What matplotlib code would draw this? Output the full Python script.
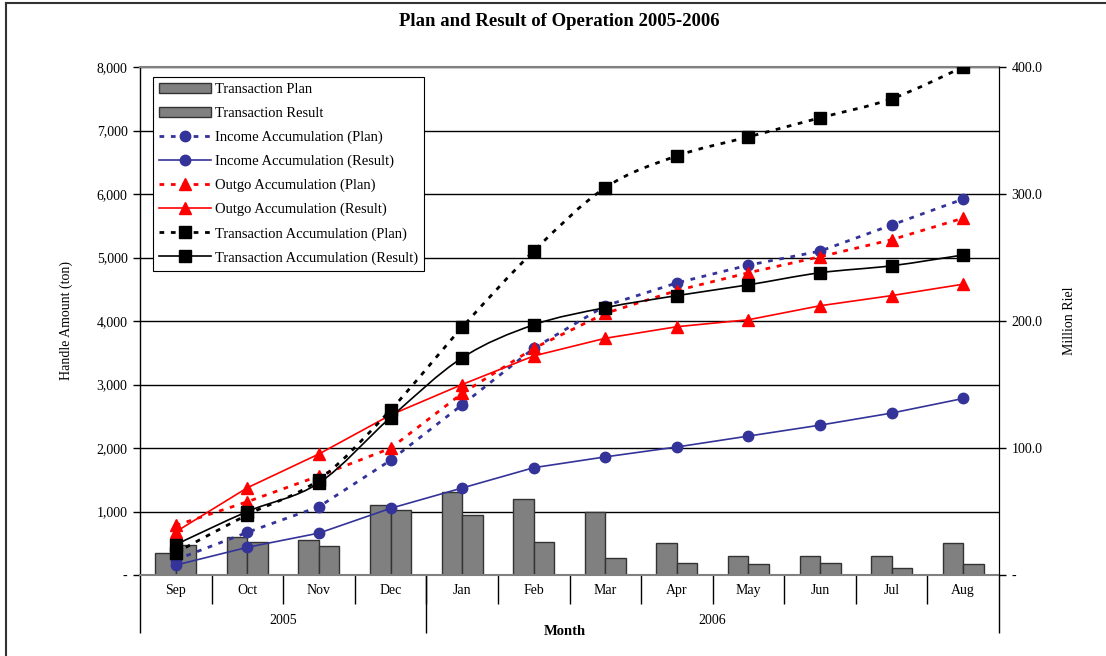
import numpy as np
import matplotlib
matplotlib.use("Agg")
import matplotlib.pyplot as plt
import matplotlib.transforms as mtransforms
from matplotlib.path import Path
from matplotlib.patches import PathPatch, Patch
from matplotlib.lines import Line2D
from matplotlib.ticker import FuncFormatter

plt.rcParams['font.family'] = ['Liberation Serif', 'DejaVu Serif']

# Data
months = ["Sep", "Oct", "Nov", "Dec", "Jan", "Feb", "Mar", "Apr", "May", "Jun", "Jul", "Aug"]
years = ["2005", "2006"]

# monthly transaction (ton)
trans_plan = [350, 600, 550, 1100, 1300, 1200, 1000, 500, 300, 300, 300, 500]
trans_result = [480, 520, 450, 1030, 940, 520, 270, 190, 170, 190, 110, 170]

# accumulated transaction (ton)
trans_acc_plan = [350, 950, 1500, 2600, 3900, 5100, 6100, 6600, 6900, 7200, 7500, 8000]
trans_acc_result = [480, 1000, 1450, 2480, 3420, 3940, 4210, 4400, 4570, 4760, 4870, 5040]

# accumulated income / outgo (Million Riel)
income_plan = [12, 33.6, 53.8, 90.3, 134, 178.5, 212, 230, 244, 255, 275.6, 296]
income_result = [7.8, 21.8, 33, 52.5, 68.5, 84.5, 93, 100.8, 109.4, 118, 127.5, 139]
outgo_plan = [39, 57.7, 78, 99.8, 143, 178.5, 206, 224, 238, 250.6, 264, 281]
outgo_result = [34, 68.7, 95.3, 126, 150, 172.5, 186.4, 195.5, 201, 212, 220, 229]

W, H = 1106, 656
fig = plt.figure(figsize=(W / 100, H / 100), dpi=100)

x0, x1, y_top, y_bot = 140, 999, 67, 575
ax = fig.add_axes([x0 / W, 1 - y_bot / H, (x1 - x0) / W, (y_bot - y_top) / H])
ax2 = ax.twinx()
ax3 = ax.twinx()

x = np.arange(len(months))
bw = 0.286
BLUE = "#333399"
RED = "#FF0000"
FS = 10

# bars (left axis)
ax.bar(x - bw / 2, trans_plan, bw, color="#808080", edgecolor="#333333", linewidth=1, zorder=2)
ax.bar(x + bw / 2, trans_result, bw, color="#808080", edgecolor="#333333", linewidth=1, zorder=2)

ax.set_xlim(-0.5, len(months) - 0.5)
ax.set_ylim(0, 8000)
ax.set_yticks(np.arange(0, 8001, 1000))
ax.yaxis.set_major_formatter(FuncFormatter(lambda v, p: "-" if v == 0 else f"{int(v):,}"))
ax.grid(axis="y", color="black", linewidth=1)
ax.set_axisbelow(True)
ax.tick_params(axis="y", direction="out", length=5, labelsize=FS, width=1, pad=4)
ax.tick_params(axis="x", length=0, labelbottom=False)
ax.set_xticks([])
for s in ["top", "bottom"]:
    ax.spines[s].set_color("#808080")
    ax.spines[s].set_linewidth(1.5)
ax.spines["left"].set_linewidth(1)
ax.set_ylabel("Handle Amount (ton)", fontsize=FS)
ax.yaxis.set_label_coords(-0.078, 0.5)

# income / outgo (right axis)
dash = (0, (1.7, 2.4))
ax2.plot(x, income_plan, color=BLUE, ls=dash, lw=2, marker="o", ms=7.5, zorder=3)
ax2.plot(x, income_result, color=BLUE, ls="-", lw=1.2, marker="o", ms=7.5, zorder=3)
ax2.plot(x, outgo_plan, color=RED, ls=dash, lw=2, marker="^", ms=9, zorder=3)
ax2.plot(x, outgo_result, color=RED, ls="-", lw=1.2, marker="^", ms=9, zorder=3)
ax2.set_ylim(0, 400)
ax2.set_yticks(np.arange(0, 401, 100))
ax2.yaxis.set_major_formatter(FuncFormatter(lambda v, p: "-" if v == 0 else f"{v:.1f}"))
ax2.tick_params(axis="y", direction="out", length=5, labelsize=FS, width=1, pad=4)
ax2.set_ylabel("Million Riel", fontsize=FS)
ax2.yaxis.set_label_coords(1.075, 0.5)
for s in ["top", "bottom", "left"]:
    ax2.spines[s].set_visible(False)


def smooth_path(xs, ys):
    pts = np.column_stack([xs, ys]).astype(float)
    n = len(pts)
    verts = [pts[0]]
    codes = [Path.MOVETO]
    for i in range(n - 1):
        p0 = pts[max(i - 1, 0)]
        p1 = pts[i]
        p2 = pts[i + 1]
        p3 = pts[min(i + 2, n - 1)]
        verts += [p1 + (p2 - p0) / 6, p2 - (p3 - p1) / 6, p2]
        codes += [Path.CURVE4] * 3
    return Path(verts, codes)


# transaction accumulation (left scale, drawn on top)
ax3.set_ylim(0, 8000)
ax3.axis("off")
ax3.add_patch(PathPatch(smooth_path(x, trans_acc_plan), fill=False, edgecolor="black",
                        lw=2, ls=dash, zorder=4))
ax3.add_patch(PathPatch(smooth_path(x, trans_acc_result), fill=False, edgecolor="black",
                        lw=1.2, ls="-", zorder=4))
ax3.plot(x, trans_acc_plan, ls="none", marker="s", ms=8, color="black", zorder=5)
ax3.plot(x, trans_acc_result, ls="none", marker="s", ms=8, color="black", zorder=5)
ax3.set_xlim(-0.5, len(months) - 0.5)

# multi-level category axis
tr = mtransforms.blended_transform_factory(ax.transData, ax.transAxes)
ax.vlines(np.arange(0.5, 11.5, 1.0), -0.057, 0, transform=tr, color="black", lw=1, clip_on=False)
ax.vlines([-0.5, 3.5, 11.5], -0.114, 0, transform=tr, color="black", lw=1, clip_on=False)
for i, m in enumerate(months):
    ax.text(i, -0.031, m, transform=tr, ha="center", va="center", fontsize=FS)
ax.text(1.5, -0.089, years[0], transform=tr, ha="center", va="center", fontsize=FS)
ax.text(7.5, -0.089, years[1], transform=tr, ha="center", va="center", fontsize=FS)
ax.text(0.494, -0.111, "Month", transform=ax.transAxes, ha="center", va="center",
        fontsize=10.5, fontweight="bold")

fig.text(559 / W, 1 - 21 / H, "Plan and Result of Operation 2005-2006", ha="center",
         va="center", fontsize=13.5, fontweight="bold")

# legend
handles = [
    Patch(facecolor="#808080", edgecolor="#333333"),
    Patch(facecolor="#808080", edgecolor="#333333"),
    Line2D([], [], color=BLUE, ls=dash, lw=2, marker="o", ms=7.5),
    Line2D([], [], color=BLUE, ls="-", lw=1.2, marker="o", ms=7.5),
    Line2D([], [], color=RED, ls=dash, lw=2, marker="^", ms=9),
    Line2D([], [], color=RED, ls="-", lw=1.2, marker="^", ms=9),
    Line2D([], [], color="black", ls=dash, lw=2, marker="s", ms=8),
    Line2D([], [], color="black", ls="-", lw=1.2, marker="s", ms=8),
]
labels = ["Transaction Plan", "Transaction Result",
          "Income Accumulation (Plan)", "Income Accumulation (Result)",
          "Outgo Accumulation (Plan)", "Outgo Accumulation (Result)",
          "Transaction Accumulation (Plan)", "Transaction Accumulation (Result)"]
leg = ax3.legend(handles, labels, loc="upper left", bbox_to_anchor=(153 / W, 1 - 77 / H),
                 bbox_transform=fig.transFigure, borderaxespad=0, fontsize=10.5,
                 handlelength=3.6, handletextpad=0.25, labelspacing=0.73, numpoints=1,
                 fancybox=False, framealpha=1, edgecolor="black", borderpad=0.4)
leg.get_frame().set_linewidth(0.8)

# outer frame of the chart
fig.add_artist(Line2D([6 / W, 6 / W], [0, 1 - 3 / H], color="#333333", lw=1.5))
fig.add_artist(Line2D([6 / W, 1], [1 - 3 / H, 1 - 3 / H], color="#333333", lw=1.5))

fig.savefig("out.png", dpi=100)
